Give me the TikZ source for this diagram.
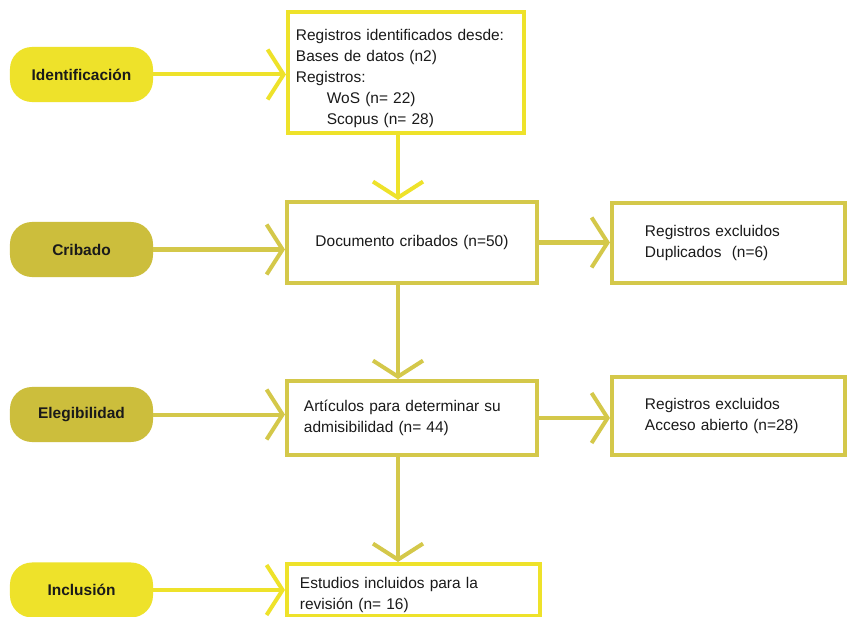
\documentclass[tikz,border=0pt]{standalone}
\usepackage{fontspec}
\setmainfont{Liberation Sans}
\usetikzlibrary{arrows.meta,calc,positioning}
\definecolor{Lemon}{HTML}{EEE22A}
\definecolor{Olive}{HTML}{CCBE3C}
\definecolor{OliveLine}{HTML}{D4C84A}
\definecolor{Ink}{HTML}{1A1A1A}
\tikzset{
  stage/.style={
    rounded corners=0.55cm, fill=Lemon, text=Ink,
    minimum width=3.575cm, minimum height=1.375cm, align=center,
    font=\fontsize{11}{15}\selectfont\bfseries
  },
  record/.style={
    draw=Lemon, line width=0.1cm, fill=white, text=Ink,
    align=left, inner ysep=0pt,
    font=\fontsize{11}{15}\selectfont
  },
  lemonflow/.style={-{Straight Barb[length=0.4cm,width=1.25cm]}, line width=0.1cm, draw=Lemon},
  oliveflow/.style={-{Straight Barb[length=0.4cm,width=1.25cm]}, line width=0.1cm, draw=OliveLine}
}
\begin{document}
\begin{tikzpicture}[x=0.025cm,y=-0.025cm]
        \useasboundingbox[fill=white] (0,0) rectangle (849,617);
        % stages
        \node[stage] (ident) at (81.5,74.5) {Identificación};
        \node[stage,fill=Olive] (crib) at (81.5,249.5) {Cribado};
        \node[stage,fill=Olive] (eleg) at (81.5,414.5) {Elegibilidad};
        \node[stage] (incl) at (81.5,590) {Inclusión};
        % records
        \node[record,text width=5.5cm,inner xsep=0.2cm,minimum height=3.025cm] (found) at (406,72.5)
          {\rule{0pt}{16.5pt}Registros identificados desde:\\Bases de datos (n2)\\Registros:\\\hspace*{22pt}WoS (n= 22)\\\hspace*{22pt}Scopus (n= 28)};
        \node[record,draw=OliveLine,align=center,text width=5.85cm,inner xsep=0.2cm,minimum height=2.025cm] (screen) at (412,242.5)
          {Documento cribados (n=50)};
        \node[record,draw=OliveLine,text width=4.175cm,inner xsep=0.825cm,minimum height=2cm] (dupl) at (728.5,243)
          {Registros excluidos\\Duplicados~ (n=6)};
        \node[record,draw=OliveLine,text width=5.4cm,inner xsep=0.425cm,minimum height=1.85cm] (elig) at (412,418)
          {Artículos para determinar su\\admisibilidad (n= 44)};
        \node[record,draw=OliveLine,text width=4.175cm,inner xsep=0.825cm,minimum height=1.95cm] (open) at (728.5,416)
          {Registros excluidos\\Acceso abierto (n=28)};
        \node[record,text width=5.675cm,inner xsep=0.325cm,minimum height=1.3cm] (incd) at (413.5,590)
          {\rule{0pt}{15pt}Estudios incluidos para la\\revisión (n= 16)};
        \coordinate (axis) at (398,0);
        % connectors
        \draw[lemonflow] (ident.east) -- (ident.east -| found.west);
        \draw[oliveflow] (crib.east) -- (crib.east -| screen.west);
        \draw[oliveflow] (eleg.east) -- (eleg.east -| elig.west);
        \draw[lemonflow] (incl.east) -- (incl.east -| incd.west);
        \draw[lemonflow] (found.south -| axis) -- (screen.north -| axis);
        \draw[oliveflow] (screen.south -| axis) -- (elig.north -| axis);
        \draw[oliveflow] (elig.south -| axis) -- (incd.north -| axis);
        \draw[oliveflow] (screen.east) -- (screen.east -| dupl.west);
        \draw[oliveflow] (elig.east) -- (elig.east -| open.west);
      \end{tikzpicture}
\end{document}
